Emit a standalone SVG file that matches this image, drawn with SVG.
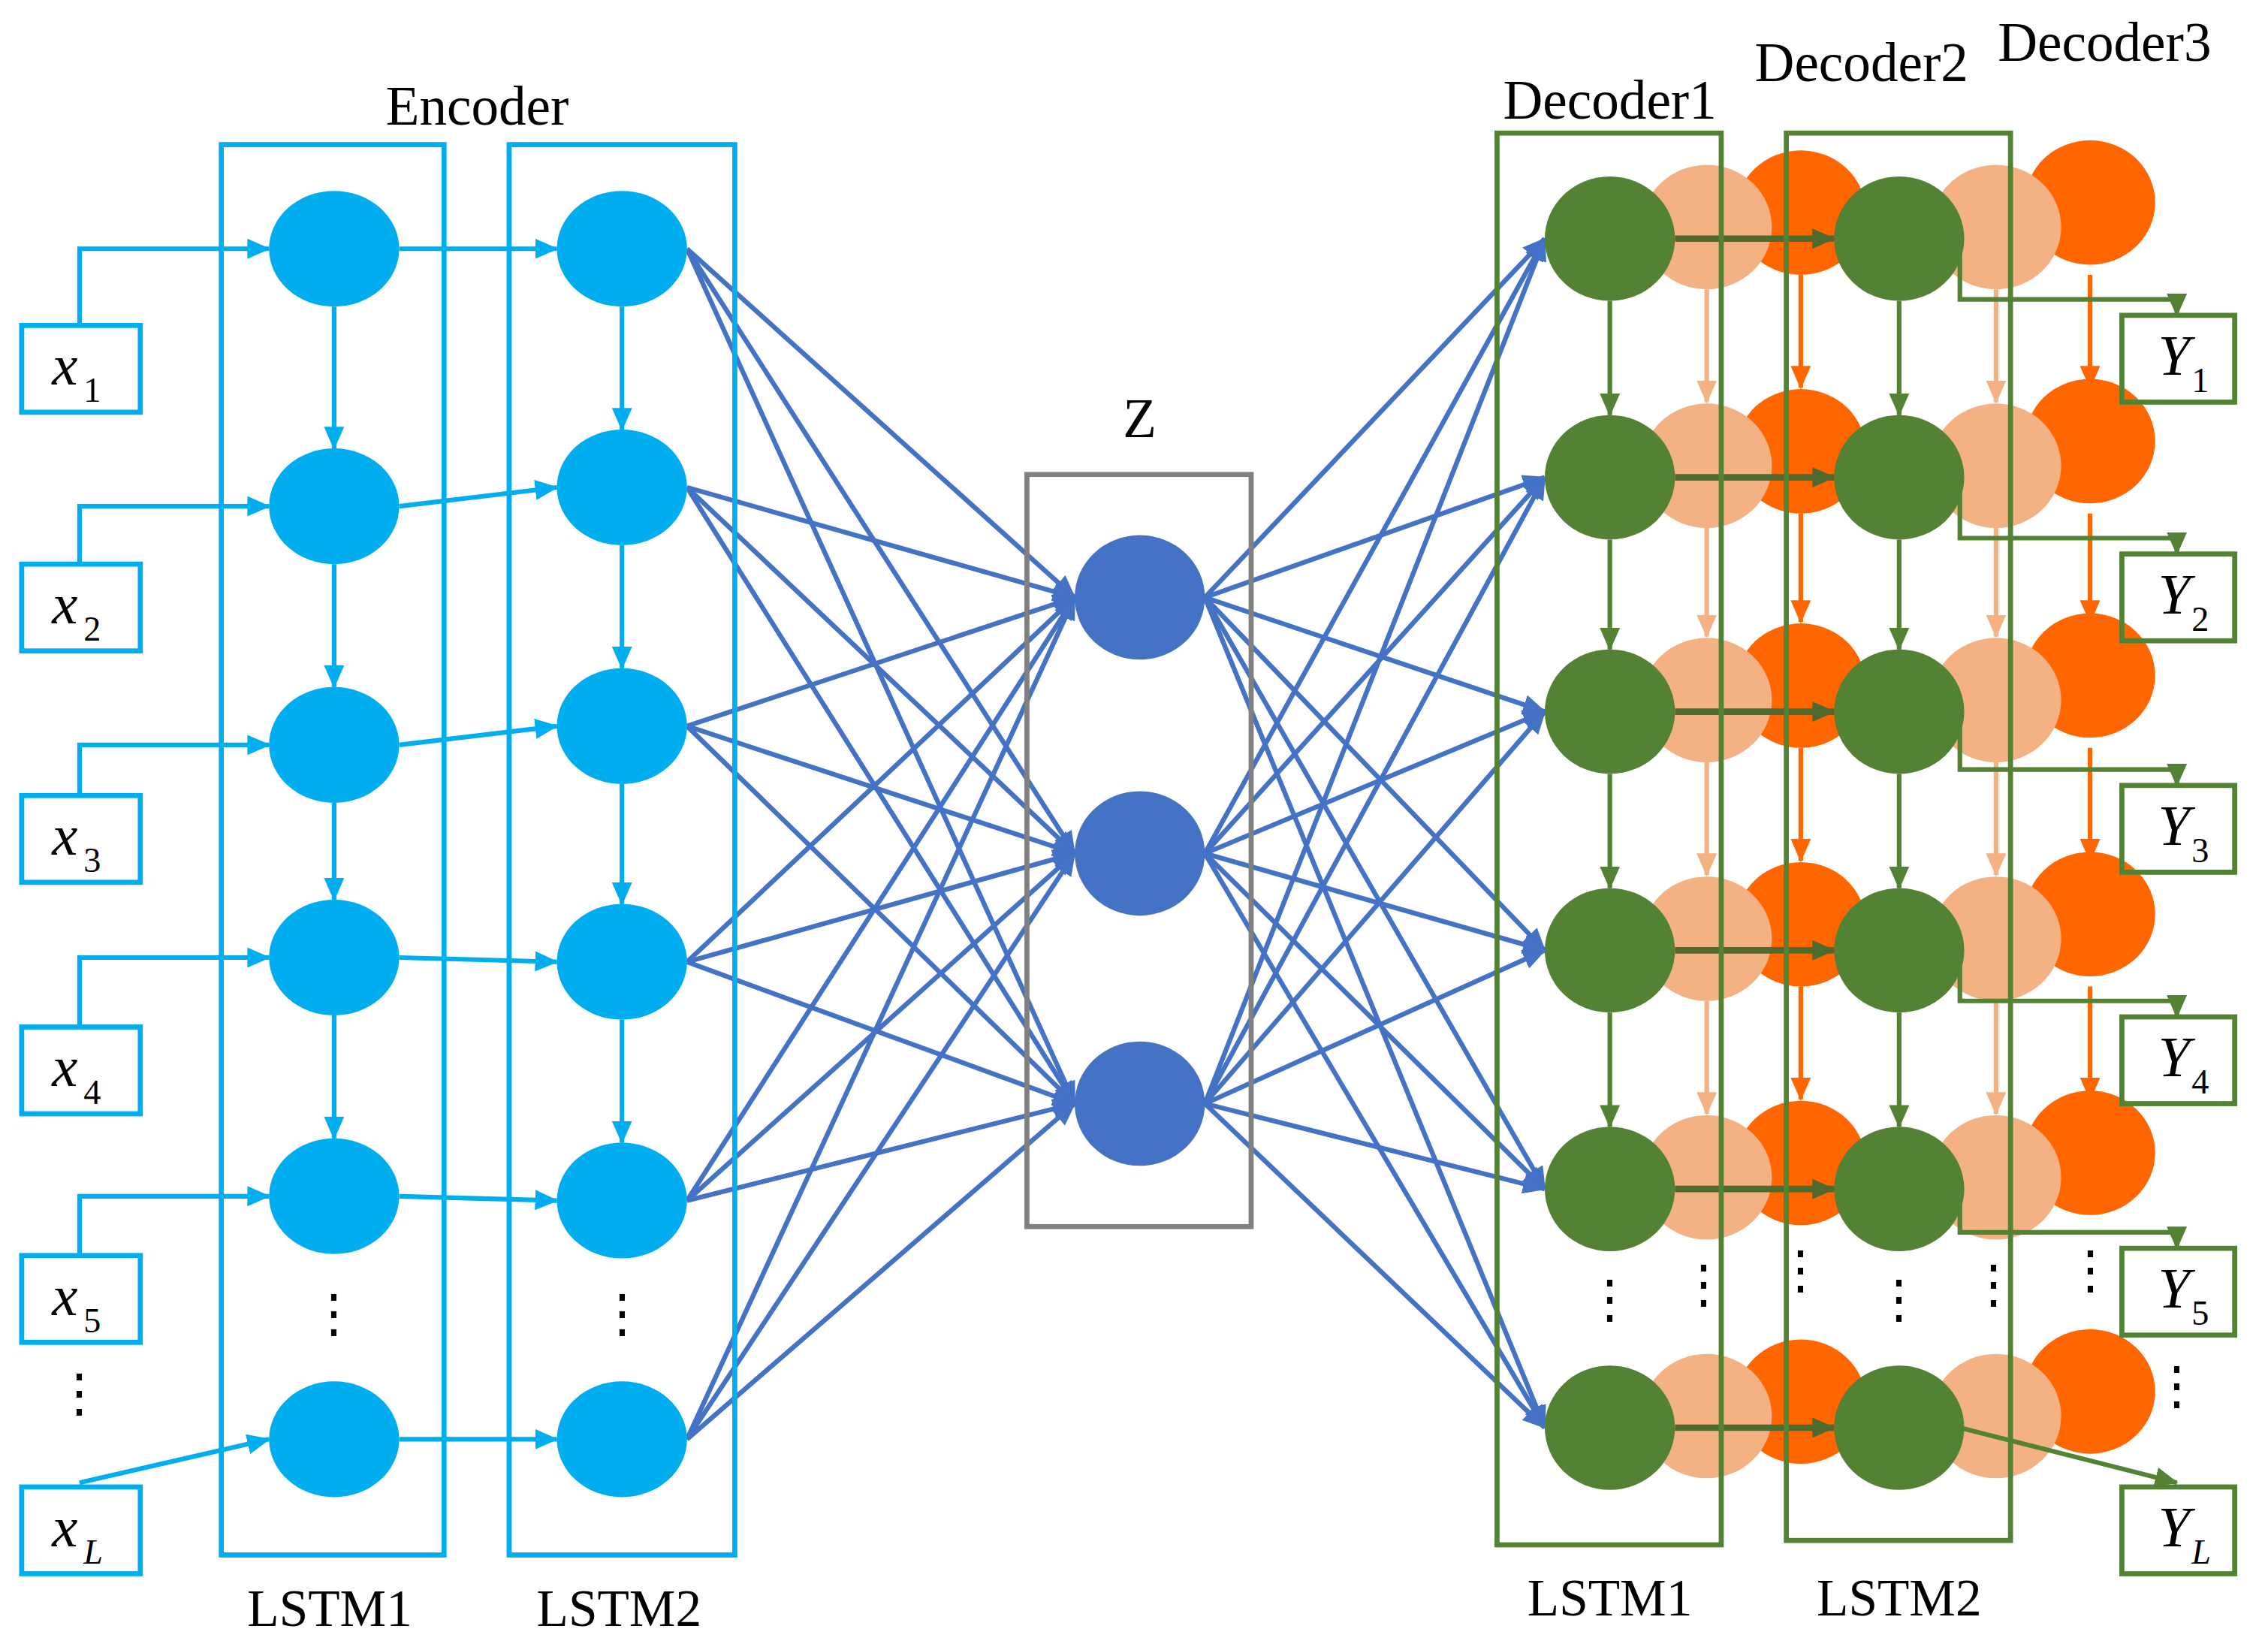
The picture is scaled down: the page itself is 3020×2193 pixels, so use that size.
<svg xmlns="http://www.w3.org/2000/svg" width="3020" height="2193" viewBox="0 0 3020 2193">
<defs>
<marker id="ab" markerUnits="userSpaceOnUse" markerWidth="16" markerHeight="14" refX="15" refY="7" orient="auto"><path d="M0,0L16,7L0,14z" fill="#00AEEF"/></marker>
<marker id="ad" markerUnits="userSpaceOnUse" markerWidth="16" markerHeight="14" refX="15" refY="7" orient="auto"><path d="M0,0L16,7L0,14z" fill="#4472C4"/></marker>
<marker id="ag" markerUnits="userSpaceOnUse" markerWidth="16" markerHeight="14" refX="15" refY="7" orient="auto"><path d="M0,0L16,7L0,14z" fill="#548235"/></marker>
<marker id="ag2" markerUnits="userSpaceOnUse" markerWidth="16" markerHeight="14" refX="15" refY="7" orient="auto"><path d="M0,0L16,7L0,14z" fill="#4F6A2E"/></marker>
<marker id="ap" markerUnits="userSpaceOnUse" markerWidth="16" markerHeight="14" refX="15" refY="7" orient="auto"><path d="M0,0L16,7L0,14z" fill="#F4B183"/></marker>
<marker id="ao" markerUnits="userSpaceOnUse" markerWidth="16" markerHeight="14" refX="15" refY="7" orient="auto"><path d="M0,0L16,7L0,14z" fill="#FF6600"/></marker>
</defs>
<style>
.t{font-family:"Liberation Serif","Times New Roman",serif;fill:#000}
.lbl{font-size:36px}
.dec{font-size:38px}
.it{font-style:italic;font-size:40px}
.sub{font-size:24px;font-style:normal}
.subi{font-size:24px;font-style:italic}
.bb{fill:none;stroke:#00AEEF;stroke-width:3.5}
.gb{fill:none;stroke:#548235;stroke-width:3.5}
.zb{fill:none;stroke:#808080;stroke-width:3.5}
.bl{fill:none;stroke:#00AEEF;stroke-width:3.2}
.dl{fill:none;stroke:#4472C4;stroke-width:3.3}
.gl{fill:none;stroke:#548235;stroke-width:3.2}
.ghl{fill:none;stroke:#4F6A2E;stroke-width:4.5}
.pl{fill:none;stroke:#F4B183;stroke-width:3.2}
.ol{fill:none;stroke:#FF6600;stroke-width:3.2}
.nb{fill:#00AEEF}.nz{fill:#4472C4}.ng{fill:#548235}.np{fill:#F4B183}.no{fill:#FF6600}
</style>
<g transform="scale(1.926)">
<g id="connectors">
<g class="dl" marker-end="url(#ad)">
<path d="M475,172L743,413"/><path d="M475,172L743,590"/><path d="M475,172L743,763"/>
<path d="M475,337L743,413"/><path d="M475,337L743,590"/><path d="M475,337L743,763"/>
<path d="M475,502L743,413"/><path d="M475,502L743,590"/><path d="M475,502L743,763"/>
<path d="M475,665L743,413"/><path d="M475,665L743,590"/><path d="M475,665L743,763"/>
<path d="M475,830L743,413"/><path d="M475,830L743,590"/><path d="M475,830L743,763"/>
<path d="M475,995L743,413"/><path d="M475,995L743,590"/><path d="M475,995L743,763"/>
<path d="M833,413L1068,165"/><path d="M833,413L1068,330"/><path d="M833,413L1068,492"/><path d="M833,413L1068,657"/><path d="M833,413L1068,822"/><path d="M833,413L1068,987"/>
<path d="M833,590L1068,165"/><path d="M833,590L1068,330"/><path d="M833,590L1068,492"/><path d="M833,590L1068,657"/><path d="M833,590L1068,822"/><path d="M833,590L1068,987"/>
<path d="M833,763L1068,165"/><path d="M833,763L1068,330"/><path d="M833,763L1068,492"/><path d="M833,763L1068,657"/><path d="M833,763L1068,822"/><path d="M833,763L1068,987"/>
</g>
<g class="bl" marker-end="url(#ab)">
<path d="M55,225V172H186"/><path d="M55,390V350H186"/><path d="M55,550V515H186"/><path d="M55,710V662H186"/><path d="M55,868V827H186"/><path d="M55,1025L186,995"/>
<path d="M276,172H385"/><path d="M276,350L385,337"/><path d="M276,515L385,502"/><path d="M276,662L385,665"/><path d="M276,827L385,830"/><path d="M276,995H385"/>
<path d="M231,212V310"/><path d="M231,390V475"/><path d="M231,555V622"/><path d="M231,702V787"/>
<path d="M430,212V297"/><path d="M430,377V462"/><path d="M430,542V625"/><path d="M430,705V790"/>
</g>
<g class="pl" marker-end="url(#ap)">
<path d="M1180,200V278"/><path d="M1180,365V440"/><path d="M1180,527V605"/><path d="M1180,692V770"/>
<path d="M1380,200V278"/><path d="M1380,365V440"/><path d="M1380,527V605"/><path d="M1380,692V770"/>
</g>
<g class="ol" marker-end="url(#ao)">
<path d="M1245,190V268"/><path d="M1245,355V430"/><path d="M1245,517V595"/><path d="M1245,682V760"/>
<path d="M1445,190V268"/><path d="M1445,355V430"/><path d="M1445,517V595"/><path d="M1445,682V760"/>
</g>
</g>
<g id="encoder">
<text class="t dec" x="330" y="86" text-anchor="middle">Encoder</text>
<rect class="bb" x="153" y="100" width="154" height="975"/>
<rect class="bb" x="352" y="100" width="156" height="975"/>
<ellipse class="nb" cx="231" cy="172" rx="45" ry="40"/><ellipse class="nb" cx="231" cy="350" rx="45" ry="40"/><ellipse class="nb" cx="231" cy="515" rx="45" ry="40"/><ellipse class="nb" cx="231" cy="662" rx="45" ry="40"/><ellipse class="nb" cx="231" cy="827" rx="45" ry="40"/><ellipse class="nb" cx="231" cy="995" rx="45" ry="40"/>
<ellipse class="nb" cx="430" cy="172" rx="45" ry="40"/><ellipse class="nb" cx="430" cy="337" rx="45" ry="40"/><ellipse class="nb" cx="430" cy="502" rx="45" ry="40"/><ellipse class="nb" cx="430" cy="665" rx="45" ry="40"/><ellipse class="nb" cx="430" cy="830" rx="45" ry="40"/><ellipse class="nb" cx="430" cy="995" rx="45" ry="40"/>
<text class="t lbl" x="231" y="920" text-anchor="middle">⋮</text>
<text class="t lbl" x="430" y="920" text-anchor="middle">⋮</text>
<text class="t lbl" x="228" y="1124" text-anchor="middle">LSTM1</text>
<text class="t lbl" x="428" y="1124" text-anchor="middle">LSTM2</text>
</g>
<g id="inputs">
<rect class="bb" x="15" y="225" width="82" height="60"/><text class="t it" x="36" y="266">x<tspan class="sub" dx="4" dy="12">1</tspan></text>
<rect class="bb" x="15" y="390" width="82" height="60"/><text class="t it" x="36" y="431">x<tspan class="sub" dx="4" dy="12">2</tspan></text>
<rect class="bb" x="15" y="550" width="82" height="60"/><text class="t it" x="36" y="591">x<tspan class="sub" dx="4" dy="12">3</tspan></text>
<rect class="bb" x="15" y="710" width="82" height="60"/><text class="t it" x="36" y="751">x<tspan class="sub" dx="4" dy="12">4</tspan></text>
<rect class="bb" x="15" y="868" width="82" height="60"/><text class="t it" x="36" y="909">x<tspan class="sub" dx="4" dy="12">5</tspan></text>
<text class="t lbl" x="55" y="975" text-anchor="middle">⋮</text>
<rect class="bb" x="15" y="1028" width="82" height="60"/><text class="t it" x="36" y="1069">x<tspan class="subi" dx="4" dy="12">L</tspan></text>
</g>
<g id="z">
<text class="t dec" x="788" y="302" text-anchor="middle">Z</text>
<rect class="zb" x="710" y="328" width="155" height="520"/>
<ellipse class="nz" cx="788" cy="413" rx="45" ry="43"/><ellipse class="nz" cx="788" cy="590" rx="45" ry="43"/><ellipse class="nz" cx="788" cy="763" rx="45" ry="43"/>
</g>
<g id="decoder">
<g class="no">
<ellipse cx="1245" cy="147" rx="45" ry="43"/><ellipse cx="1245" cy="312" rx="45" ry="43"/><ellipse cx="1245" cy="474" rx="45" ry="43"/><ellipse cx="1245" cy="639" rx="45" ry="43"/><ellipse cx="1245" cy="804" rx="45" ry="43"/><ellipse cx="1245" cy="969" rx="45" ry="43"/>
<ellipse cx="1445" cy="140" rx="45" ry="43"/><ellipse cx="1445" cy="305" rx="45" ry="43"/><ellipse cx="1445" cy="467" rx="45" ry="43"/><ellipse cx="1445" cy="632" rx="45" ry="43"/><ellipse cx="1445" cy="797" rx="45" ry="43"/><ellipse cx="1445" cy="962" rx="45" ry="43"/>
</g>
<g class="np">
<ellipse cx="1180" cy="157" rx="45" ry="43"/><ellipse cx="1180" cy="322" rx="45" ry="43"/><ellipse cx="1180" cy="484" rx="45" ry="43"/><ellipse cx="1180" cy="649" rx="45" ry="43"/><ellipse cx="1180" cy="814" rx="45" ry="43"/><ellipse cx="1180" cy="979" rx="45" ry="43"/>
<ellipse cx="1380" cy="157" rx="45" ry="43"/><ellipse cx="1380" cy="322" rx="45" ry="43"/><ellipse cx="1380" cy="484" rx="45" ry="43"/><ellipse cx="1380" cy="649" rx="45" ry="43"/><ellipse cx="1380" cy="814" rx="45" ry="43"/><ellipse cx="1380" cy="979" rx="45" ry="43"/>
</g>
<g class="gl" marker-end="url(#ag)">
<path d="M1113,208V287"/><path d="M1113,373V449"/><path d="M1113,535V614"/><path d="M1113,700V779"/>
<path d="M1313,208V287"/><path d="M1313,373V449"/><path d="M1313,535V614"/><path d="M1313,700V779"/>
</g>
<g class="ng">
<ellipse cx="1113" cy="165" rx="45" ry="43"/><ellipse cx="1113" cy="330" rx="45" ry="43"/><ellipse cx="1113" cy="492" rx="45" ry="43"/><ellipse cx="1113" cy="657" rx="45" ry="43"/><ellipse cx="1113" cy="822" rx="45" ry="43"/><ellipse cx="1113" cy="987" rx="45" ry="43"/>
<ellipse cx="1313" cy="165" rx="45" ry="43"/><ellipse cx="1313" cy="330" rx="45" ry="43"/><ellipse cx="1313" cy="492" rx="45" ry="43"/><ellipse cx="1313" cy="657" rx="45" ry="43"/><ellipse cx="1313" cy="822" rx="45" ry="43"/><ellipse cx="1313" cy="987" rx="45" ry="43"/>
</g>
<g class="ghl" marker-end="url(#ag2)">
<path d="M1158,165H1268"/><path d="M1158,330H1268"/><path d="M1158,492H1268"/><path d="M1158,657H1268"/><path d="M1158,822H1268"/><path d="M1158,987H1268"/>
</g>
<rect class="gb" x="1035" y="92" width="155" height="976"/>
<rect class="gb" x="1235" y="92" width="155" height="973"/>
<text class="t dec" x="1113" y="82" text-anchor="middle">Decoder1</text>
<text class="t dec" x="1287" y="56" text-anchor="middle">Decoder2</text>
<text class="t dec" x="1455" y="42" text-anchor="middle">Decoder3</text>
<text class="t lbl" x="1113" y="910" text-anchor="middle">⋮</text>
<text class="t lbl" x="1178" y="900" text-anchor="middle">⋮</text>
<text class="t lbl" x="1245" y="890" text-anchor="middle">⋮</text>
<text class="t lbl" x="1313" y="910" text-anchor="middle">⋮</text>
<text class="t lbl" x="1378" y="900" text-anchor="middle">⋮</text>
<text class="t lbl" x="1445" y="890" text-anchor="middle">⋮</text>
<text class="t lbl" x="1113" y="1117" text-anchor="middle">LSTM1</text>
<text class="t lbl" x="1313" y="1117" text-anchor="middle">LSTM2</text>
</g>
<g id="outputs">
<g class="gl" marker-end="url(#ag)">
<path d="M1355,165V207H1505V218"/><path d="M1355,330V372H1505V383"/><path d="M1355,492V532H1505V543"/><path d="M1355,657V692H1505V703"/><path d="M1355,822V852H1505V863"/><path d="M1355,987L1505,1025"/>
</g>
<rect class="gb" x="1467" y="218" width="78" height="60"/><text class="t it" x="1492" y="259">Y<tspan class="sub" dx="1" dy="12">1</tspan></text>
<rect class="gb" x="1467" y="383" width="78" height="60"/><text class="t it" x="1492" y="424">Y<tspan class="sub" dx="1" dy="12">2</tspan></text>
<rect class="gb" x="1467" y="543" width="78" height="60"/><text class="t it" x="1492" y="584">Y<tspan class="sub" dx="1" dy="12">3</tspan></text>
<rect class="gb" x="1467" y="703" width="78" height="60"/><text class="t it" x="1492" y="744">Y<tspan class="sub" dx="1" dy="12">4</tspan></text>
<rect class="gb" x="1467" y="863" width="78" height="60"/><text class="t it" x="1492" y="904">Y<tspan class="sub" dx="1" dy="12">5</tspan></text>
<text class="t lbl" x="1505" y="970" text-anchor="middle">⋮</text>
<rect class="gb" x="1467" y="1028" width="78" height="60"/><text class="t it" x="1492" y="1069">Y<tspan class="subi" dx="1" dy="12">L</tspan></text>
</g>
</g>
</svg>
